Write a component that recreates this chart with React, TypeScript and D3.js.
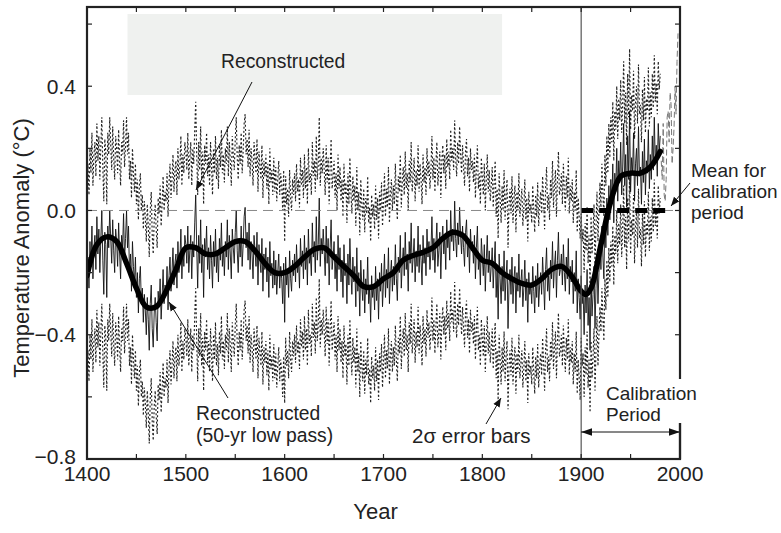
import React from 'react';
import * as d3 from 'd3';

const W = 781;
const H = 533;

// Annual reconstruction, 1400 .. 1980
const reconStart = 1400;
const recon: number[] = [
  -0.21, -0.15, -0.25, -0.10, -0.18, -0.05, -0.22, -0.12, -0.08, -0.19,
  -0.02, -0.14, -0.06, -0.20, -0.09, 0.00, -0.16, -0.27, -0.07, -0.11,
  -0.28, -0.05, -0.12, 0.00, -0.09, -0.17, -0.03, -0.13, -0.20, -0.06,
  -0.10, -0.18, -0.04, -0.14, -0.22, -0.08, -0.12, -0.01, -0.16, -0.09,
  0.00, -0.12, -0.05, -0.20, -0.14, -0.26, -0.10, -0.18, -0.24, -0.15,
  -0.28, -0.20, -0.33, -0.22, -0.18, -0.30, -0.25, -0.36, -0.27, -0.32,
  -0.40, -0.28, -0.35, -0.45, -0.30, -0.24, -0.38, -0.44, -0.33, -0.28,
  -0.36, -0.42, -0.26, -0.31, -0.22, -0.35, -0.28, -0.19, -0.30, -0.24,
  -0.27, -0.18, -0.32, -0.21, -0.15, -0.26, -0.20, -0.12, -0.24, -0.17,
  -0.14, -0.25, -0.10, -0.20, -0.16, -0.06, -0.22, -0.12, -0.18, -0.08,
  -0.11, -0.17, -0.05, -0.20, -0.13, -0.08, -0.22, -0.10, -0.15, -0.04,
  0.05, -0.12, -0.25, -0.08, -0.17, -0.03, -0.20, -0.11, -0.28, -0.09,
  -0.15, -0.05, -0.19, -0.12, -0.22, -0.08, -0.16, -0.25, -0.10, -0.18,
  -0.06, -0.20, -0.13, -0.23, -0.09, -0.16, -0.04, -0.18, -0.12, -0.21,
  -0.10, -0.15, -0.03, -0.19, -0.08, -0.14, -0.22, -0.06, -0.12, -0.17,
  -0.07, 0.00, -0.13, -0.20, -0.09, -0.15, -0.05, -0.18, -0.11, -0.02,
  0.01, -0.12, -0.07, -0.16, -0.04, -0.19, -0.10, -0.14, -0.22, -0.08,
  -0.13, -0.18, -0.07, -0.24, -0.11, -0.16, -0.20, -0.09, -0.26, -0.14,
  -0.19, -0.12, -0.23, -0.15, -0.28, -0.10, -0.21, -0.17, -0.25, -0.13,
  -0.24, -0.16, -0.27, -0.20, -0.14, -0.25, -0.18, -0.22, -0.30, -0.17,
  -0.36, -0.15, -0.24, -0.19, -0.28, -0.13, -0.22, -0.26, -0.16, -0.21,
  -0.14, -0.23, -0.11, -0.20, -0.16, -0.25, -0.09, -0.18, -0.13, -0.22,
  -0.08, -0.19, -0.12, -0.24, -0.06, -0.17, -0.14, -0.21, -0.04, -0.15,
  -0.10, -0.20, -0.02, -0.16, -0.11, 0.04, -0.18, -0.09, -0.14, -0.06,
  -0.13, -0.21, -0.05, -0.17, -0.09, -0.24, -0.12, -0.03, -0.19, -0.15,
  -0.10, -0.22, -0.14, -0.26, -0.08, -0.19, -0.12, -0.23, -0.16, -0.28,
  -0.11, -0.21, -0.17, -0.30, -0.14, -0.24, -0.09, -0.20, -0.27, -0.15,
  -0.23, -0.18, -0.31, -0.12, -0.26, -0.20, -0.34, -0.16, -0.24, -0.29,
  -0.19, -0.33, -0.22, -0.27, -0.15, -0.30, -0.25, -0.36, -0.21, -0.28,
  -0.24, -0.32, -0.18, -0.29, -0.22, -0.35, -0.20, -0.26, -0.17, -0.31,
  -0.23, -0.14, -0.28, -0.19, -0.25, -0.12, -0.30, -0.21, -0.16, -0.26,
  -0.18, -0.24, -0.11, -0.22, -0.29, -0.15, -0.20, -0.08, -0.25, -0.17,
  -0.12, -0.21, -0.07, -0.19, -0.14, -0.26, -0.10, -0.17, -0.04, -0.20,
  -0.15, -0.09, -0.23, -0.13, -0.18, -0.05, -0.20, -0.11, -0.16, -0.24,
  -0.08, -0.17, -0.12, -0.21, -0.06, -0.15, -0.10, -0.19, -0.13, -0.02,
  -0.16, -0.09, -0.20, -0.11, -0.04, -0.18, -0.13, -0.07, -0.22, -0.10,
  -0.05, -0.14, -0.08, -0.19, -0.03, -0.12, -0.07, -0.16, 0.00, -0.10,
  -0.06, -0.13, 0.03, -0.09, -0.15, -0.04, -0.11, 0.01, -0.08, -0.14,
  -0.05, -0.12, -0.18, -0.07, -0.03, -0.15, -0.09, -0.20, -0.06, -0.13,
  -0.10, -0.17, -0.08, -0.22, -0.12, -0.05, -0.19, -0.14, -0.24, -0.09,
  -0.15, -0.21, -0.11, -0.26, -0.16, -0.08, -0.20, -0.13, -0.23, -0.18,
  -0.12, -0.25, -0.17, -0.10, -0.28, -0.19, -0.35, -0.14, -0.22, -0.30,
  -0.18, -0.26, -0.13, -0.29, -0.21, -0.16, -0.38, -0.24, -0.19, -0.27,
  -0.15, -0.30, -0.22, -0.18, -0.33, -0.20, -0.26, -0.14, -0.28, -0.23,
  -0.19, -0.31, -0.25, -0.16, -0.29, -0.22, -0.36, -0.20, -0.27, -0.24,
  -0.30, -0.18, -0.26, -0.33, -0.21, -0.28, -0.17, -0.31, -0.24, -0.20,
  -0.27, -0.15, -0.23, -0.32, -0.19, -0.12, -0.26, -0.21, -0.29, -0.16,
  -0.22, -0.10, -0.25, -0.18, -0.13, -0.28, -0.16, -0.07, -0.21, -0.19,
  -0.14, -0.24, -0.11, -0.20, -0.26, -0.15, -0.22, -0.09, -0.27, -0.18,
  -0.23, -0.16, -0.30, -0.20, -0.26, -0.13, -0.33, -0.22, -0.28, -0.35,
  -0.21, -0.30, -0.26, -0.40, -0.24, -0.33, -0.19, -0.37, -0.28, -0.45,
  -0.22, -0.34, -0.27, -0.18, -0.38, -0.25, -0.14, -0.30, -0.20, -0.11,
  -0.19, -0.05, -0.15, -0.22, -0.02, -0.12, 0.04, -0.08, 0.08, -0.03,
  0.10, 0.02, 0.15, -0.04, 0.12, 0.06, 0.20, 0.03, 0.16, 0.09,
  0.22, 0.05, 0.14, 0.28, 0.08, 0.18, 0.01, 0.24, 0.10, 0.32,
  0.06, 0.17, 0.12, 0.25, 0.03, 0.15, 0.20, 0.08, 0.27, 0.11,
  0.14, 0.02, 0.19, 0.09, 0.23, 0.05, 0.16, 0.12, 0.26, 0.07,
  0.18, 0.10, 0.24, 0.13, 0.30, 0.15, 0.21, 0.11, 0.28, 0.19,
  0.24,
];

// 2-sigma half width of the uncertainty band, by period
const eraStart = [1400, 1600, 1900];
const eraTwoSigma = [0.3, 0.26, 0.2];

// 50-yr low pass curve
const smoothYears = [
  1400, 1410, 1420, 1430, 1440, 1450, 1460, 1470, 1480, 1490,
  1500, 1510, 1520, 1530, 1540, 1550, 1560, 1570, 1580, 1590,
  1600, 1610, 1620, 1630, 1640, 1650, 1660, 1670, 1680, 1690,
  1700, 1710, 1720, 1730, 1740, 1750, 1760, 1770, 1780, 1790,
  1800, 1810, 1820, 1830, 1840, 1850, 1860, 1870, 1880, 1890,
  1900, 1905, 1910, 1920, 1930, 1940, 1950, 1960, 1970, 1980,
];
const smoothVals = [
  -0.21, -0.11, -0.085, -0.1, -0.17, -0.25, -0.31, -0.31, -0.26, -0.19,
  -0.12, -0.12, -0.14, -0.14, -0.12, -0.1, -0.1, -0.13, -0.17, -0.2,
  -0.2, -0.18, -0.15, -0.125, -0.12, -0.15, -0.18, -0.21, -0.245, -0.245,
  -0.22, -0.2, -0.16, -0.145, -0.135, -0.12, -0.09, -0.07, -0.08, -0.12,
  -0.16, -0.17, -0.2, -0.22, -0.235, -0.24, -0.22, -0.19, -0.18, -0.21,
  -0.26, -0.27, -0.25, -0.11, 0.03, 0.11, 0.12, 0.12, 0.14, 0.19,
];

// instrumental tail
const instStart = 1981;
const instrumental = [
  0.16, 0.1, 0.28, 0.05, 0.03, 0.1, 0.3, 0.32, 0.22, 0.38,
  0.34, 0.15, 0.2, 0.27, 0.4, 0.31, 0.48, 0.57,
];

const calibYears = [1900, 1990];
const calibMean = 0.0;

const xLabelTicks = [1400, 1500, 1600, 1700, 1800, 1900, 2000];
const xMinorTicks = [1450, 1550, 1650, 1750, 1850, 1950];
const yLabelTicks = [-0.8, -0.4, 0.0, 0.4];
const yMinorTicks = [-0.6, -0.2, 0.2, 0.6];

const FONT = "'Liberation Sans', Arial, Helvetica, sans-serif";

export default function App() {
  const x = d3.scaleLinear().domain([1400, 2000]).range([87, 680]);
  const y = d3.scaleLinear().domain([-0.8, 0.655]).range([459, 7]);
  const [x0, x1] = x.range();
  const [yb, yt] = y.range();

  const reconPts: [number, number][] = recon.map((v, i) => [reconStart + i, v]);
  const twoSig = (yr: number) => {
    let s = eraTwoSigma[0];
    eraStart.forEach((e, i) => {
      if (yr >= e) s = eraTwoSigma[i];
    });
    return s;
  };
  const upperPts: [number, number][] = reconPts.map(([yr, v]) => [yr, v + twoSig(yr)]);
  const lowerPts: [number, number][] = reconPts.map(([yr, v]) => [yr, v - twoSig(yr)]);
  const instPts: [number, number][] = instrumental.map((v, i) => [instStart + i, v]);
  const smoothPts: [number, number][] = smoothYears.map((yr, i) => [yr, smoothVals[i]]);

  const line = d3
    .line<[number, number]>()
    .x((d) => x(d[0]))
    .y((d) => y(d[1]));
  const smoothLine = d3
    .line<[number, number]>()
    .x((d) => x(d[0]))
    .y((d) => y(d[1]))
    .curve(d3.curveCatmullRom.alpha(0.5));

  const tickLen = 5;

  return (
    <svg
      width={W}
      height={H}
      style={{ position: 'absolute', left: 0, top: 0, background: '#fff' }}
      fontFamily={FONT}
    >
      <defs>
        <clipPath id="plotClip">
          <rect x={x0} y={yt} width={x1 - x0} height={yb - yt} />
        </clipPath>
        <marker id="ah" viewBox="0 0 10 10" refX="10" refY="5" markerWidth="9" markerHeight="9" orient="auto" markerUnits="userSpaceOnUse">
          <path d="M0,1 L10,5 L0,9 Z" fill="#111" />
        </marker>
        <marker id="ahs" viewBox="0 0 10 10" refX="10" refY="5" markerWidth="11" markerHeight="11" orient="auto-start-reverse" markerUnits="userSpaceOnUse">
          <path d="M0,1.5 L10,5 L0,8.5 Z" fill="#111" />
        </marker>
      </defs>

      <rect x={x(1441)} y={14} width={x(1820) - x(1441)} height={81} fill="#eff1ef" />

      <g clipPath="url(#plotClip)">
        <path d={line(upperPts) || ''} fill="none" stroke="#222" strokeWidth={1.15} strokeDasharray="2,2.2" />
        <path d={line(lowerPts) || ''} fill="none" stroke="#222" strokeWidth={1.15} strokeDasharray="2,2.2" />
        <path d={line(reconPts) || ''} fill="none" stroke="#111" strokeWidth={0.9} />
        <path d={line(instPts) || ''} fill="none" stroke="#777" strokeWidth={1} strokeDasharray="6,3" />
        <line x1={x0} x2={x1} y1={y(0)} y2={y(0)} stroke="#888" strokeWidth={1} strokeDasharray="10,6" />
        <path d={smoothLine(smoothPts) || ''} fill="none" stroke="#000" strokeWidth={5.5} strokeLinejoin="round" strokeLinecap="round" />
        <line
          x1={x(calibYears[0])}
          x2={x(calibYears[1])}
          y1={y(calibMean)}
          y2={y(calibMean)}
          stroke="#000"
          strokeWidth={5}
          strokeDasharray="12,6"
        />
      </g>

      <line x1={x(1900)} x2={x(1900)} y1={yt} y2={yb} stroke="#555" strokeWidth={1.2} />

      {/* frame */}
      <rect x={x0} y={yt} width={x1 - x0} height={yb - yt} fill="none" stroke="#222" strokeWidth={2.2} />

      {/* ticks */}
      {xLabelTicks.concat(xMinorTicks).map((t) => (
        <g key={'xt' + t}>
          <line x1={x(t)} x2={x(t)} y1={yb} y2={yb - tickLen} stroke="#222" strokeWidth={1.2} />
          <line x1={x(t)} x2={x(t)} y1={yt} y2={yt + tickLen} stroke="#222" strokeWidth={1.2} />
        </g>
      ))}
      {yLabelTicks.concat(yMinorTicks).map((t) => (
        <g key={'yt' + t}>
          <line x1={x0} x2={x0 + tickLen} y1={y(t)} y2={y(t)} stroke="#222" strokeWidth={1.2} />
          <line x1={x1} x2={x1 - tickLen} y1={y(t)} y2={y(t)} stroke="#222" strokeWidth={1.2} />
        </g>
      ))}

      {/* tick labels */}
      {xLabelTicks.map((t) => (
        <text key={'xl' + t} x={x(t)} y={yb + 22} fontSize={21} textAnchor="middle" fill="#222">
          {t}
        </text>
      ))}
      {yLabelTicks.map((t) => (
        <text key={'yl' + t} x={x0 - 11} y={y(t) + (t === -0.8 ? 5 : 7.5)} fontSize={21} textAnchor="end" fill="#222">
          {d3.format('.1f')(t)}
        </text>
      ))}

      <text x={(x0 + x1) / 2 - 8} y={519} fontSize={22} textAnchor="middle" fill="#222">
        Year
      </text>
      <text
        transform={`translate(29, ${(yt + yb) / 2 + 15}) rotate(-90)`}
        fontSize={22}
        textAnchor="middle"
        fill="#222"
      >
        Temperature Anomaly (°C)
      </text>

      {/* annotations */}
      <text x={221} y={68} fontSize={19.3} fill="#222">Reconstructed</text>
      <line x1={252} y1={82} x2={196} y2={190} stroke="#111" strokeWidth={1} markerEnd="url(#ah)" />

      <text x={196} y={420} fontSize={19.3} fill="#222">Reconstructed</text>
      <text x={196} y={442} fontSize={19.3} fill="#222">(50-yr low pass)</text>
      <line x1={228} y1={398} x2={169} y2={302} stroke="#111" strokeWidth={1} markerEnd="url(#ah)" />

      <text x={412} y={443} fontSize={20.5} fill="#222">2σ error bars</text>
      <line x1={486} y1={424} x2={501} y2={398} stroke="#111" strokeWidth={1} markerEnd="url(#ah)" />

      <rect x={600} y={379} width={126} height={44} fill="#fff" />
      <text x={606} y={400} fontSize={19} fill="#222">Calibration</text>
      <text x={606} y={421} fontSize={19} fill="#222">Period</text>
      <line x1={x(1900)} y1={432} x2={x1} y2={432} stroke="#111" strokeWidth={1} markerStart="url(#ahs)" markerEnd="url(#ahs)" />
      <line x1={x1} y1={423} x2={x1} y2={yb} stroke="#222" strokeWidth={2.2} />

      <text x={691} y={177} fontSize={19} fill="#222">Mean for</text>
      <text x={691} y={198} fontSize={19} fill="#222">calibration</text>
      <text x={691} y={219} fontSize={19} fill="#222">period</text>
      <line x1={690} y1={183} x2={671} y2={206} stroke="#111" strokeWidth={1} markerEnd="url(#ah)" />
    </svg>
  );
}
